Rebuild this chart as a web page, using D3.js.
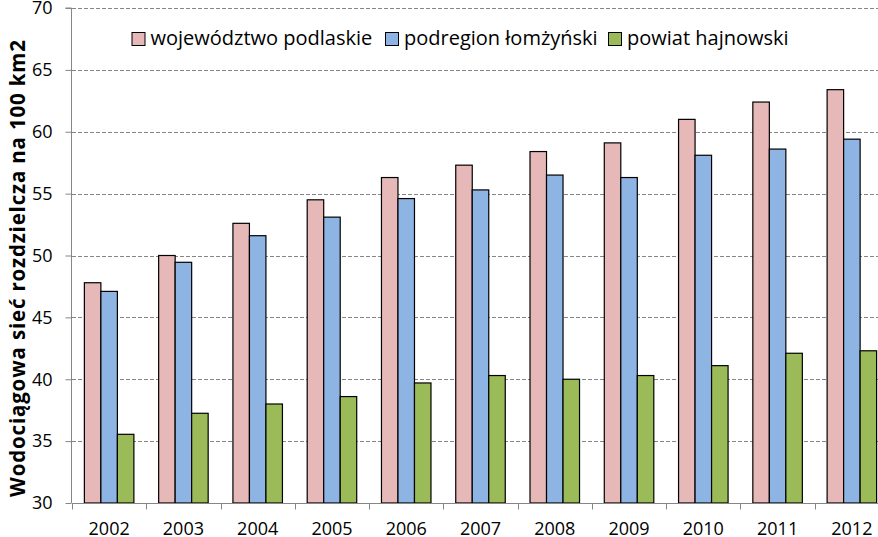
<!DOCTYPE html>
<html><head><meta charset="utf-8">
<script src="https://cdn.jsdelivr.net/npm/d3@7"></script>
<style>body{margin:0;background:#fff}svg{display:block}</style>
</head><body>
<svg id="c" width="878" height="537"></svg>
<script>
const years = ["2002","2003","2004","2005","2006","2007","2008","2009","2010","2011","2012"];
const seriesNames = ["województwo podlaskie","podregion łomżyński","powiat hajnowski"];
const podlaskie = [47.8,50.0,52.6,54.5,56.3,57.3,58.4,59.1,61.0,62.4,63.4];
const lomzynski = [47.1,49.45,51.6,53.1,54.6,55.3,56.5,56.3,58.1,58.6,59.4];
const hajnowski = [35.55,37.25,38.0,38.6,39.7,40.3,40.0,40.3,41.1,42.1,42.3];
const yTicks = [30,35,40,45,50,55,60,65,70];
const colors = ["#E6B9B8","#8EB4E3","#9BBB59"];
const yTitle = "Wodociągowa sieć rozdzielcza na 100 km2";

const seriesVals = [podlaskie, lomzynski, hajnowski];
const svg = d3.select("#c");
const font = "'Open Sans', 'Liberation Sans', Arial, sans-serif";
const pLeft = 72, pRight = 889, pTop = 8, pBottom = 503;

const x = d3.scaleBand().domain(years).range([pLeft, pRight]).paddingInner(0).paddingOuter(0);
const y = d3.scaleLinear().domain([30,70]).range([pBottom, pTop]);
const inner = d3.scaleBand().domain([0,1,2]).range([0, x.bandwidth()]).paddingOuter(0.75).paddingInner(0);

// grid
svg.append("g").selectAll("line").data(yTicks.filter(t=>t>30)).join("line")
  .attr("x1", pLeft).attr("x2", 878).attr("y1", d=>Math.round(y(d))+0.5).attr("y2", d=>Math.round(y(d))+0.5)
  .attr("stroke","#868686").attr("stroke-width",1).attr("stroke-dasharray","4,2");

// bars
const g = svg.append("g");
years.forEach((yr,i)=>{
  seriesVals.forEach((vals,s)=>{
    g.append("rect")
      .attr("x", x(yr)+inner(s))
      .attr("y", y(vals[i]))
      .attr("width", inner.bandwidth())
      .attr("height", y(30)-y(vals[i]))
      .attr("fill", colors[s]).attr("stroke","#000").attr("stroke-width",1.2);
  });
});

// y axis
const ya = svg.append("g").attr("transform",`translate(${pLeft-0.5},0)`)
  .call(d3.axisLeft(y).tickValues(yTicks).tickSize(6).tickPadding(13));
ya.select(".domain").attr("stroke","#868686").attr("d",`M-6,${y(70)}H0V${y(30)}`);
ya.selectAll(".tick line").attr("stroke","#868686");
ya.selectAll(".tick text").attr("font-family",font).attr("font-size",18).attr("fill","#000");

// x axis
const xa = svg.append("g").attr("transform",`translate(0,${pBottom+0.5})`)
  .call(d3.axisBottom(x).tickSize(0));
xa.select(".domain").attr("stroke","#868686").attr("d",`M${pLeft},0H878`);
xa.selectAll(".tick text").attr("font-family",font).attr("font-size",18).attr("fill","#000")
  .attr("dy",null).attr("y",31.5);
const xt = svg.append("g").attr("transform",`translate(0,${pBottom+0.5})`);
xt.selectAll("line").data(years).join("line")
  .attr("x1", d=>Math.round(x(d))+0.5).attr("x2", d=>Math.round(x(d))+0.5)
  .attr("y1",0).attr("y2",6).attr("stroke","#868686");

// y title
svg.append("text").attr("transform","translate(25,268.5) rotate(-90)")
  .attr("text-anchor","middle").attr("font-family",font).attr("font-weight","bold")
  .attr("font-size",20.5).attr("textLength",457).attr("lengthAdjust","spacing")
  .attr("fill","#000").text(yTitle);

// legend
const legX = [131.5, 385, 608];
seriesNames.forEach((n,s)=>{
  svg.append("rect").attr("x",legX[s]+0.5).attr("y",32.5).attr("width",13).attr("height",13)
    .attr("fill",colors[s]).attr("stroke","#000").attr("stroke-width",1);
  svg.append("text").attr("x",legX[s]+19).attr("y",45).attr("font-family",font)
    .attr("font-size",20).attr("fill","#000").text(n);
});
</script>
</body></html>
